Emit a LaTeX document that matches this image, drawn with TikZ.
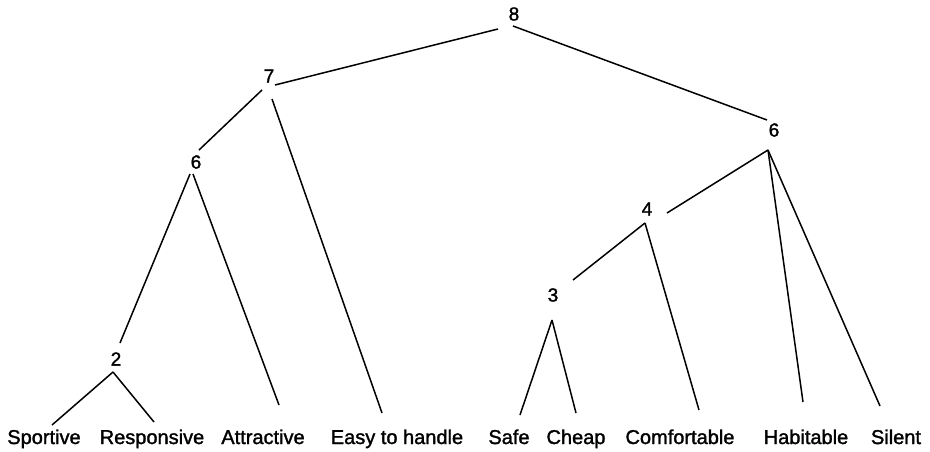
\documentclass[tikz,border=0pt]{standalone}
\usepackage{fontspec}
\setmainfont{Liberation Sans}[FakeBold=1.5]
\begin{document}
\begin{tikzpicture}[x=1pt,y=-1pt,
  num/.style={font=\fontsize{19}{20}\selectfont, inner sep=0pt},
  leaf/.style={font=\fontsize{20}{22}\selectfont, inner sep=0pt, anchor=base},
  edge/.style={line width=1.5pt}]
\useasboundingbox (0,0) rectangle (930,451);
% internal nodes
\node[num] (n8) at (514,14) {8};
\node[num] (n7) at (269,76) {7};
\node[num] (n6a) at (196,162) {6};
\node[num] (n2) at (116,359) {2};
\node[num] (n6b) at (774,130) {6};
\node[num] (n4) at (647,209) {4};
\node[num] (n3) at (553,295) {3};
% leaves
\node[leaf] (sportive) at (44,444) {Sportive};
\node[leaf] (responsive) at (152,444) {Responsive};
\node[leaf] (attractive) at (263,444) {Attractive};
\node[leaf] (easy) at (397,444) {Easy to handle};
\node[leaf] (safe) at (509,444) {Safe};
\node[leaf] (cheap) at (576,444) {Cheap};
\node[leaf] (comfortable) at (680,444) {Comfortable};
\node[leaf] (habitable) at (806,444) {Habitable};
\node[leaf] (silent) at (896,444) {Silent};
% connection ports
\coordinate (n8l) at (498,29);
\coordinate (n8r) at (513,26);
\coordinate (n7r) at (275,85);
\coordinate (n7l) at (262,90);
\coordinate (n7d) at (272,99);
\coordinate (n6at) at (199,150);
\coordinate (n6al) at (190,174);
\coordinate (n6ar) at (193,174);
\coordinate (n2t) at (120,343);
\coordinate (n2b) at (113,372);
\coordinate (n6bt) at (767,120);
\coordinate (n6bb) at (768,150);
\coordinate (n4r) at (667,213);
\coordinate (n4b) at (645,223);
\coordinate (n3t) at (573,280);
\coordinate (n3b) at (552,320);
\coordinate (sportivet) at (52,425);
\coordinate (responsivet) at (154,422);
\coordinate (attractivet) at (279,405);
\coordinate (easyt) at (382,413);
\coordinate (safet) at (520,415);
\coordinate (cheapt) at (576,413);
\coordinate (comfortablet) at (699,410);
\coordinate (habitablet) at (803,402);
\coordinate (silentt) at (880,406);
% connectors
\draw[edge] (n8l) -- (n7r);
\draw[edge] (n8r) -- (n6bt);
\draw[edge] (n7l) -- (n6at);
\draw[edge] (n7d) -- (easyt);
\draw[edge] (n6al) -- (n2t);
\draw[edge] (n6ar) -- (attractivet);
\draw[edge] (n2b) -- (sportivet);
\draw[edge] (n2b) -- (responsivet);
\draw[edge] (n6bb) -- (n4r);
\draw[edge] (n6bb) -- (habitablet);
\draw[edge] (n6bb) -- (silentt);
\draw[edge] (n4b) -- (n3t);
\draw[edge] (n4b) -- (comfortablet);
\draw[edge] (n3b) -- (safet);
\draw[edge] (n3b) -- (cheapt);
\end{tikzpicture}
\end{document}
